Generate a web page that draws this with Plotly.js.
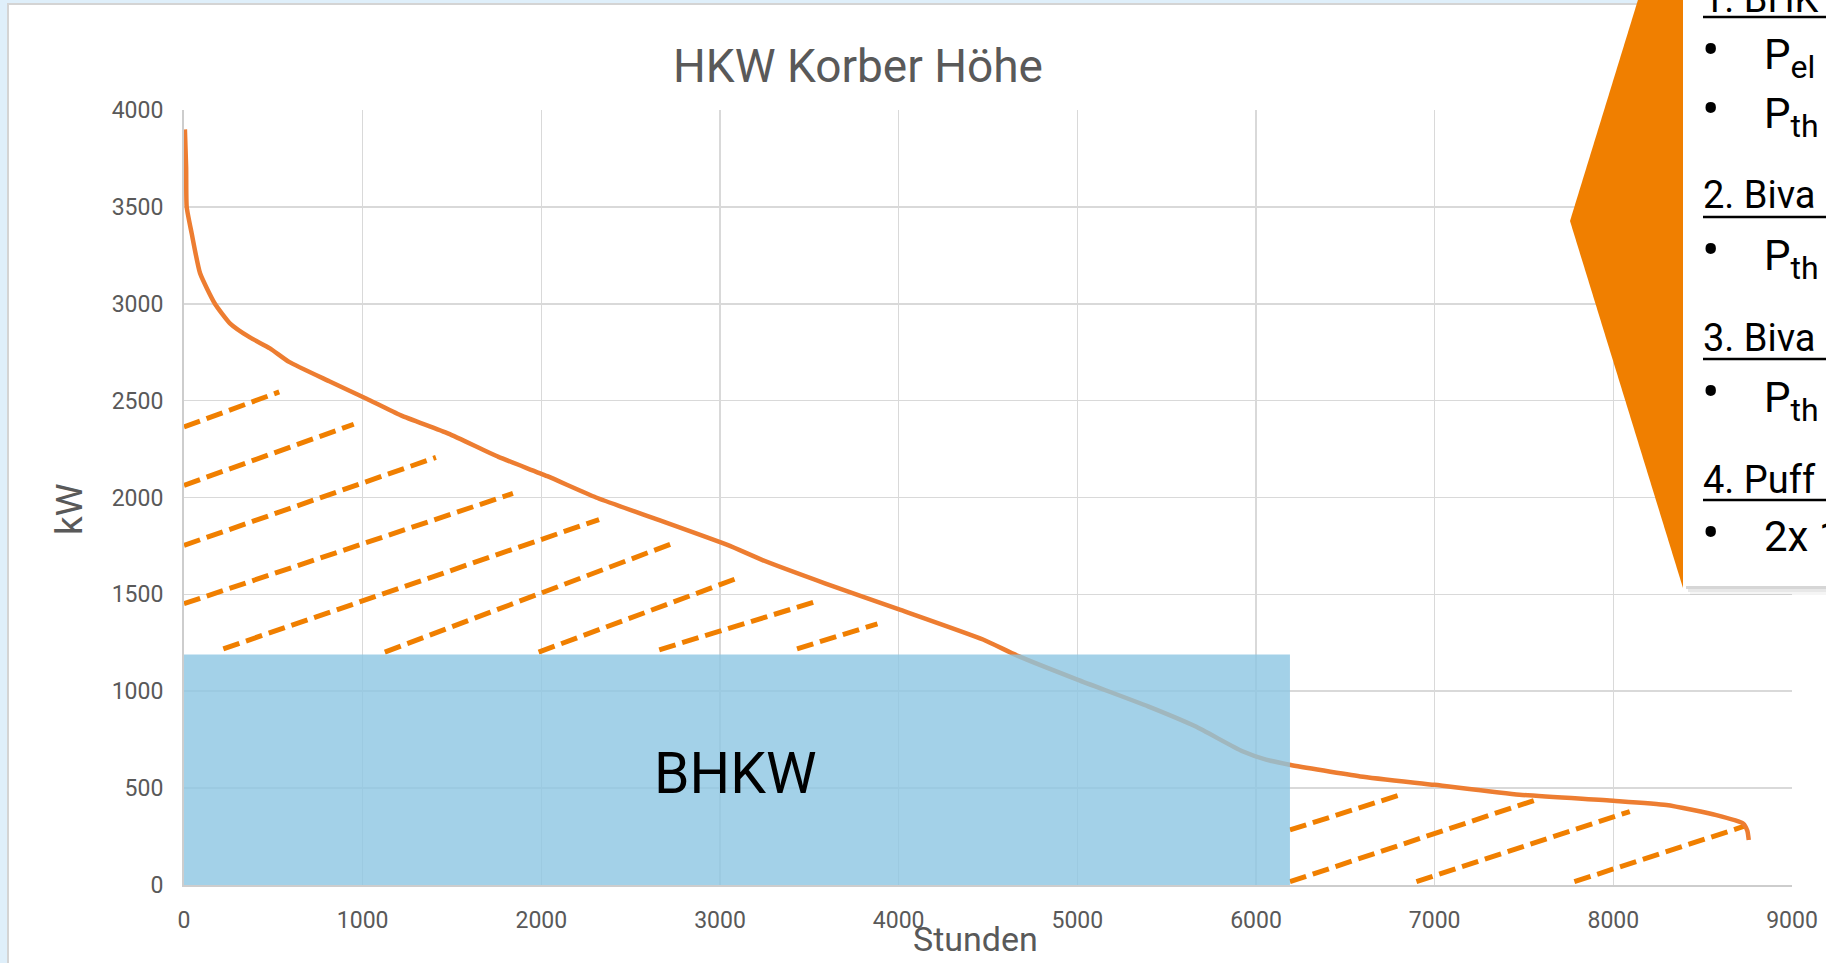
<!DOCTYPE html>
<html>
<head>
<meta charset="utf-8">
<script src="https://cdn.plot.ly/plotly-3.0.1.min.js"></script>
<style>
html,body{margin:0;padding:0;background:#DFEFFA;overflow:hidden;}
#chart{width:1826px;height:963px;}
</style>
</head>
<body>
<div id="chart"></div>
<script>
// ---------------- DATA ----------------
const chartTitle = 'HKW Korber Höhe';
const xAxisTitle = 'Stunden';
const yAxisTitle = 'kW';
const bhkwLabel = 'BHKW';

// Jahresdauerlinie (hours sorted, kW)
const hours  = [5, 12, 15, 43, 90, 173, 257, 369, 481, 588, 813, 1022, 1214, 1480, 1760, 2033, 2306, 2660, 3045, 3238, 3591, 4010, 4472, 4670, 5000, 5396, 5660, 5924, 6056, 6188, 6584, 7000, 7475, 8000, 8297, 8577, 8726, 8750, 8758];
const loadKW = [3900, 3700, 3500, 3363, 3157, 3000, 2899, 2826, 2770, 2700, 2600, 2510, 2424, 2330, 2210, 2110, 2000, 1883, 1754, 1677, 1556, 1420, 1267, 1181, 1060, 922, 819, 690, 647, 621, 560, 517, 466, 435, 413, 361, 318, 280, 232];

// BHKW block (base load)
const bhkwHours = 6190;
const bhkwKW = 1190;
const bhkwLabelPos = [3089, 578];

// Hatch segments (start / end)
const hatchX0 = [0, 0, 0, 0, 220, 1124, 1985, 2660, 3431, 6190, 6190, 6898, 7782];
const hatchY0 = [2364, 2063, 1753, 1452, 1219, 1202, 1202, 1214, 1219, 284, 17, 17, 17];
const hatchX1 = [533, 950, 1410, 1841, 2323, 2731, 3090, 3527, 3881, 6809, 7568, 8092, 8729];
const hatchY1 = [2545, 2378, 2207, 2021, 1886, 1762, 1581, 1460, 1348, 466, 440, 379, 302];

// Axis ticks
const xTicks = [0, 1000, 2000, 3000, 4000, 5000, 6000, 7000, 8000, 9000];
const yTicks = [0, 500, 1000, 1500, 2000, 2500, 3000, 3500, 4000];

// Callout box text (cut off at the slide edge)
const calloutHeadings = ['1. BHK', '2. Biva', '3. Biva', '4. Puff'];
const calloutItems = ['P<sub><span style="font-size:32px">el</span></sub>',
                      'P<sub><span style="font-size:32px">th</span></sub>',
                      'P<sub><span style="font-size:32px">th</span></sub>',
                      'P<sub><span style="font-size:32px">th</span></sub>',
                      '2x 1'];

// ---------------- GEOMETRY / STYLE ----------------
const W = 1826, H = 963;
const L = 184, R = 1792, T = 110, B = 885;
const px2x = px => (px - L) / (R - L);
const py2y = py => (B - py) / (B - T);
const FONT = 'Roboto, sans-serif';
const GRAY = '#595959';
const ORANGE = '#F07F00';

// hatch trace with gaps
const hx = [], hy = [];
for (let i = 0; i < hatchX0.length; i++) {
  hx.push(hatchX0[i], hatchX1[i], null);
  hy.push(hatchY0[i], hatchY1[i], null);
}

const traces = [
  {
    type: 'scatter', mode: 'lines', x: hx, y: hy, connectgaps: false,
    line: {color: ORANGE, width: 5, dash: '17px,7px'},
    hoverinfo: 'skip', showlegend: false
  },
  {
    type: 'scatter', mode: 'lines', x: hours, y: loadKW,
    line: {color: '#ED7D31', width: 4.5, shape: 'spline', smoothing: 0.5},
    hoverinfo: 'skip', showlegend: false
  }
];

const headingY = [-1.5, 195, 338, 480];
const underlineY = [17, 217, 359, 500];
const itemY = [53, 112, 254, 396, 536];

const shapes = [
  // white chart area with grey border
  {type: 'rect', xref: 'paper', yref: 'paper', layer: 'below',
   x0: px2x(8), x1: px2x(1860), y0: py2y(1000), y1: py2y(4),
   fillcolor: '#FFFFFF', line: {color: '#D4D4D4', width: 2}},
  // BHKW block
  {type: 'rect', xref: 'x', yref: 'y', layer: 'above',
   x0: 0, x1: bhkwHours, y0: 0, y1: bhkwKW,
   fillcolor: 'rgb(140,198,226)', opacity: 0.8, line: {width: 0}},
  // callout shadow (soft)
  {type: 'rect', xref: 'paper', yref: 'paper', layer: 'above',
   x0: px2x(1686), x1: px2x(1860), y0: py2y(589), y1: py2y(586),
   fillcolor: 'rgba(0,0,0,0.16)', line: {width: 0}},
  {type: 'rect', xref: 'paper', yref: 'paper', layer: 'above',
   x0: px2x(1688), x1: px2x(1860), y0: py2y(592), y1: py2y(589),
   fillcolor: 'rgba(0,0,0,0.09)', line: {width: 0}},
  {type: 'rect', xref: 'paper', yref: 'paper', layer: 'above',
   x0: px2x(1690), x1: px2x(1860), y0: py2y(595), y1: py2y(592),
   fillcolor: 'rgba(0,0,0,0.04)', line: {width: 0}},
  // orange callout pointer
  {type: 'path', xref: 'paper', yref: 'paper', layer: 'above',
   path: 'M ' + px2x(1570) + ' ' + py2y(221) +
         ' L ' + px2x(1641) + ' ' + py2y(-10) +
         ' L ' + px2x(1683) + ' ' + py2y(-10) +
         ' L ' + px2x(1683) + ' ' + py2y(588) + ' Z',
   fillcolor: ORANGE, line: {width: 0}},
  // white callout box
  {type: 'rect', xref: 'paper', yref: 'paper', layer: 'above',
   x0: px2x(1683), x1: px2x(1860), y0: py2y(586), y1: py2y(-20),
   fillcolor: '#FFFFFF', line: {width: 0}}
];
underlineY.forEach(y => shapes.push({
  type: 'line', xref: 'paper', yref: 'paper', layer: 'above',
  x0: px2x(1703), x1: px2x(1860), y0: py2y(y), y1: py2y(y),
  line: {color: '#000000', width: 2.5}
}));

const annotations = [
  {text: bhkwLabel, xref: 'x', yref: 'y', x: bhkwLabelPos[0], y: bhkwLabelPos[1],
   showarrow: false, font: {family: FONT, size: 57, color: '#000000'},
   xanchor: 'center', yanchor: 'middle'},
  {text: xAxisTitle, xref: 'paper', yref: 'paper', x: px2x(975), y: py2y(939),
   showarrow: false, font: {family: FONT, size: 34, color: GRAY},
   xanchor: 'center', yanchor: 'middle'},
  {text: yAxisTitle, xref: 'paper', yref: 'paper', x: px2x(69.5), y: py2y(509.5),
   showarrow: false, textangle: -90, font: {family: FONT, size: 37, color: GRAY},
   xanchor: 'center', yanchor: 'middle'}
];
calloutHeadings.forEach((t, i) => annotations.push({
  text: t, xref: 'paper', yref: 'paper', x: px2x(1701), y: py2y(headingY[i]),
  showarrow: false, font: {family: FONT, size: 38, color: '#000000'},
  xanchor: 'left', yanchor: 'middle'
}));
calloutItems.forEach((t, i) => {
  annotations.push({
    text: '•', xref: 'paper', yref: 'paper', x: px2x(1711), y: py2y(itemY[i] - 3),
    showarrow: false, font: {family: FONT, size: 52, color: '#000000'},
    xanchor: 'center', yanchor: 'middle'
  });
  annotations.push({
    text: t, xref: 'paper', yref: 'paper', x: px2x(1762),
    y: py2y(itemY[i] + (t.indexOf('<sub>') >= 0 ? 5 : 0)),
    showarrow: false, font: {family: FONT, size: 42, color: '#000000'},
    xanchor: 'left', yanchor: 'middle'
  });
});

const layout = {
  width: W, height: H,
  margin: {l: L, r: W - R, t: T, b: H - B, pad: 0},
  paper_bgcolor: '#DFEFFA',
  plot_bgcolor: '#FFFFFF',
  showlegend: false,
  title: {
    text: chartTitle, xref: 'container', yref: 'container',
    x: 858 / W, xanchor: 'center', y: 1 - 66 / H, yanchor: 'middle',
    font: {family: FONT, size: 46, color: GRAY}
  },
  xaxis: {
    range: [0, 9000], tickvals: xTicks, ticktext: xTicks.map(String),
    showgrid: true, gridcolor: '#D9D9D9', gridwidth: 1.6,
    zeroline: false, showline: true, linecolor: '#CDCDCD', linewidth: 2,
    ticks: '', ticklabelstandoff: 13,
    tickfont: {family: FONT, size: 23, color: GRAY},
    fixedrange: true
  },
  yaxis: {
    range: [0, 4000], tickvals: yTicks, ticktext: yTicks.map(String),
    showgrid: true, gridcolor: '#D9D9D9', gridwidth: 1.6,
    zeroline: false, showline: true, linecolor: '#CDCDCD', linewidth: 2,
    ticks: '', ticklabelstandoff: 14,
    tickfont: {family: FONT, size: 23, color: GRAY},
    fixedrange: true
  },
  shapes: shapes,
  annotations: annotations
};

Plotly.newPlot('chart', traces, layout, {displayModeBar: false, staticPlot: true});
</script>
</body>
</html>
